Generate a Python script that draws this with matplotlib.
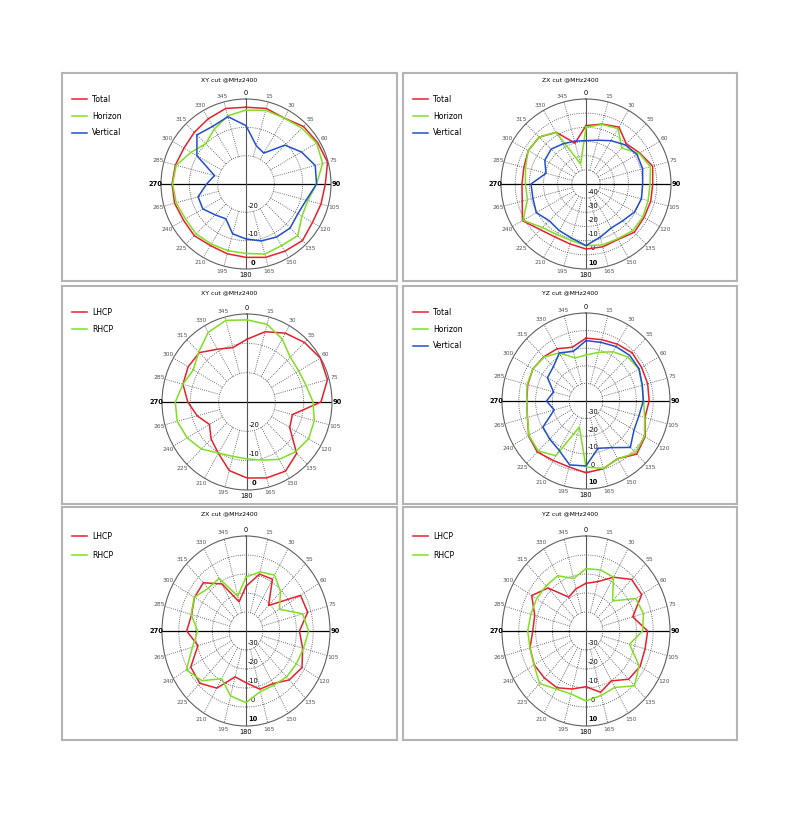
import numpy as np
import matplotlib.pyplot as plt
from matplotlib.transforms import offset_copy

plt.rcParams['font.family'] = ['DejaVu Sans']

angles = list(range(0, 360, 15))
angle_labels = ['0', '15', '30', '55', '60', '75', '90', '105', '120', '135',
                '150', '165', '180', '195', '210', '225', '240', '265', '270',
                '285', '300', '315', '330', '345']

# gain in dB, one value every 15 degrees starting at 0
xy_total = [-2.9, -2.4, -3.1, -1.3, -0.8, -0.2, -2.0, -2.6, -2.9, -1.8, -2.6, -3.2,
            -4.1, -4.5, -4.9, -4.2, -4.5, -3.9, -3.9, -4.2, -4.7, -4.2, -3.4, -2.4]
xy_horizon = [-3.9, -3.1, -3.1, -2.1, -1.2, -2.0, -5.1, -7.4, -7.2, -4.2, -4.9, -4.4,
              -5.5, -5.6, -5.5, -5.1, -5.3, -4.5, -4.1, -4.5, -7.6, -9.9, -7.6, -5.1]
xy_vertical = [-9.4, -16.0, -17.4, -10.6, -7.4, -4.7, -5.1, -8.0, -8.9, -8.0, -8.4, -9.2,
               -10.6, -11.8, -15.8, -14.6, -12.4, -12.5, -16.1, -18.5, -10.0, -5.5, -6.5, -5.4]

zx_total = [-8.8, -6.2, -3.6, -9.8, -6.2, -1.3, -2.9, -2.7, -2.7, -1.8, -4.8, -4.1,
            -4.1, -6.2, -6.7, -4.4, 1.8, -3.4, -4.8, -4.6, -2.9, -3.2, -7.9, -20.1]
zx_horizon = [-10.0, -6.5, -4.8, -14.2, -6.7, -2.9, -4.8, -4.6, -3.6, -3.4, -5.3, -5.5,
              -6.5, -8.8, -8.8, -6.5, 1.3, -7.2, -7.2, -5.8, -2.9, -3.2, -7.9, -35.4]
zx_vertical = [-19.4, -18.0, -14.7, -10.9, -8.4, -8.6, -10.0, -9.5, -10.5, -13.3, -14.2, -11.2,
               -6.5, -10.5, -12.1, -13.3, -9.5, -11.2, -11.2, -20.8, -16.4, -15.2, -17.3, -18.7]

yz_total = [-4.3, -3.9, -2.7, -1.2, -1.8, -2.0, -2.4, -3.7, 0.6, 2.7, -2.2, -0.2,
            0.8, -1.2, -1.0, 1.0, -0.6, -3.9, -4.7, -4.1, -3.5, -4.5, -5.7, -8.4]
yz_horizon = [-13.9, -11.4, -7.7, -4.7, -3.7, -5.5, -5.7, -3.9, 0.2, 1.6, -2.0, -0.4,
              -2.4, -24.7, -4.1, 0.2, -0.8, -3.9, -4.7, -3.7, -3.5, -4.7, -8.4, -14.7]
yz_vertical = [-5.7, -5.5, -4.3, -3.3, -3.5, -5.3, -5.9, -7.4, -7.0, -2.7, -9.4, -12.2,
               -3.1, -2.4, -7.8, -9.4, -10.4, -20.4, -16.5, -20.0, -13.5, -12.5, -8.4, -10.8]

xy_lhcp = [-8.6, -5.2, -2.9, -1.3, -0.1, -0.6, -3.9, -13.4, -12.6, -5.2, -2.8, -3.2,
           -4.1, -5.8, -9.8, -12.1, -14.7, -11.8, -9.1, -6.6, -6.0, -6.2, -9.2, -10.8]
xy_rhcp = [-2.0, -2.6, -5.2, -8.4, -8.9, -8.4, -6.7, -5.4, -4.9, -5.9, -7.4, -9.5,
           -10.6, -10.8, -9.9, -7.3, -5.6, -4.5, -4.7, -6.6, -8.1, -5.9, -2.6, -1.2]

zx_lhcp = [-16.5, -9.0, -8.5, -21.0, -2.5, -2.0, -8.2, -5.1, -1.5, -3.6, -8.0, -8.3,
           -12.8, -15.0, -5.3, -1.1, -2.0, -10.4, -4.7, -6.5, -4.6, -4.1, -11.4, -24.1]
zx_rhcp = [-11.6, -7.8, -6.0, -10.9, -17.1, -5.1, -2.7, -4.6, -5.4, -5.8, -7.0, -7.0,
           -2.3, -4.6, -11.0, -3.0, 1.0, -7.0, -11.2, -6.2, -4.5, -8.2, -8.0, -21.0]

yz_lhcp = [-14.9, -13.1, -7.3, -1.6, -1.7, -11.2, -3.3, -3.6, -2.8, -4.1, -9.7, -6.6,
           -10.7, -8.4, -5.5, -5.0, -4.4, -5.5, -8.3, -8.4, -2.7, -8.0, -19.4, -17.0]
yz_rhcp = [-7.2, -6.7, -7.3, -17.6, -5.8, -4.6, -6.3, -13.2, -3.5, 0.8, -5.7, -4.9,
           -3.2, -5.7, -4.7, -0.9, -4.3, -5.5, -5.3, -6.0, -6.0, -6.4, -6.4, -11.4]

RED = '#e8202c'
GREEN = '#7ee020'
BLUE = '#1f4fd0'

W, H = 800, 816
fig = plt.figure(figsize=(W / 100, H / 100), dpi=100)


def draw_panel(box, center, radius, rlim, title, series):
    l, t, r, b = box
    bax = fig.add_axes([l / W, 1 - b / H, (r - l) / W, (b - t) / H])
    bax.set_xticks([])
    bax.set_yticks([])
    for s in bax.spines.values():
        s.set_color('#b4b4b4')
        s.set_linewidth(1.5)
    bax.text(0.5, 1 - 7 / (b - t), title, ha='center', va='center',
             fontsize=4.4, transform=bax.transAxes)

    cx, cy = center
    rx, ry = radius
    pax = fig.add_axes([(cx - rx) / W, 1 - (cy + ry) / H, 2 * rx / W, 2 * ry / H],
                       projection='polar')
    pax.set_aspect('auto')
    pax.set_theta_zero_location('N')
    pax.set_theta_direction(-1)
    rmin, rmax = rlim
    pax.set_ylim(rmin, rmax)
    pax.grid(False)
    pax.set_xticks([])
    pax.set_yticks([])
    pax.spines['polar'].set_color('#606060')
    pax.spines['polar'].set_linewidth(0.8)

    # grid: dotted rings and spokes, solid axis cross
    ring_vals = list(range(rmin + 10, rmax, 10))
    th = np.linspace(0, 2 * np.pi, 361)
    for v in ring_vals:
        pax.plot(th, np.full_like(th, v), ls=(0, (1, 1.4)), color='#5a5a5a', lw=0.65)
    for a in angles:
        if a % 90:
            pax.plot([np.deg2rad(a)] * 2, [rmin + 10, rmax], ls=(0, (1, 1.4)),
                     color='#5a5a5a', lw=0.65)
    for a in (90, 270):
        pax.plot([np.deg2rad(a)] * 2, [rmin, rmax], color='black', lw=0.9)
    for a in (0, 180):
        pax.plot([np.deg2rad(a)] * 2, [rmin, rmax], color='#555555', lw=0.8)

    # angle labels
    span = rmax - rmin
    for a, lab in zip(angles, angle_labels):
        if a % 90 == 0:
            pax.text(np.deg2rad(a), rmax + 0.065 * span, lab, ha='center', va='center',
                     fontsize=4.8, color='black',
                     fontweight='bold' if a in (90, 270) else 'normal')
        else:
            pax.text(np.deg2rad(a), rmax + 0.07 * span, lab, ha='center', va='center',
                     fontsize=4.3, color='#555555')

    # radial labels below centre
    shift = offset_copy(pax.transData, fig=fig, x=7, y=0, units='dots')
    for v in ring_vals + [rmax]:
        pax.text(np.pi, v - 0.075 * span, str(v), ha='center', va='center',
                 fontsize=4.8, transform=shift, zorder=1,
                 fontweight='bold' if v == rmax else 'normal')

    theta = np.deg2rad(angles + [360])
    handles = []
    for label, vals, color in series:
        ln, = pax.plot(theta, list(vals) + [vals[0]], color=color, lw=1.1, zorder=3,
                       label=label)
        handles.append(ln)

    tall = b - t > 225
    first_row = 25 if tall else 22
    bax.legend(handles=handles, loc='upper left',
               bbox_to_anchor=(10 / (r - l), 1 - first_row / (b - t)),
               frameon=False, fontsize=5.6, handlelength=1.9, handletextpad=0.7,
               labelspacing=1.3 if tall else 0.98, borderaxespad=0, borderpad=0)


L_BOX = (62, 397)
R_BOX = (403, 737)
ROWS = [(73, 281), (286, 504), (507, 740)]

tri = lambda t, h, v: [('Total', t, RED), ('Horizon', h, GREEN), ('Vertical', v, BLUE)]
duo = lambda lh, rh: [('LHCP', lh, RED), ('RHCP', rh, GREEN)]

draw_panel((L_BOX[0], ROWS[0][0], L_BOX[1], ROWS[0][1]), (246, 184), (85, 85), (-30, 0),
           'XY cut @MHz2400', tri(xy_total, xy_horizon, xy_vertical))
draw_panel((R_BOX[0], ROWS[0][0], R_BOX[1], ROWS[0][1]), (586, 184), (85, 85), (-50, 10),
           'ZX cut @MHz2400', tri(zx_total, zx_horizon, zx_vertical))
draw_panel((L_BOX[0], ROWS[1][0], L_BOX[1], ROWS[1][1]), (247, 402), (85, 88), (-30, 0),
           'XY cut @MHz2400', duo(xy_lhcp, xy_rhcp))
draw_panel((R_BOX[0], ROWS[1][0], R_BOX[1], ROWS[1][1]), (586, 401), (84, 88), (-40, 10),
           'YZ cut @MHz2400', tri(yz_total, yz_horizon, yz_vertical))
draw_panel((L_BOX[0], ROWS[2][0], L_BOX[1], ROWS[2][1]), (246, 631), (84, 95), (-40, 10),
           'ZX cut @MHz2400', duo(zx_lhcp, zx_rhcp))
draw_panel((R_BOX[0], ROWS[2][0], R_BOX[1], ROWS[2][1]), (586, 631), (84, 95), (-40, 10),
           'YZ cut @MHz2400', duo(yz_lhcp, yz_rhcp))

fig.savefig('out.png', dpi=100, facecolor='white')
